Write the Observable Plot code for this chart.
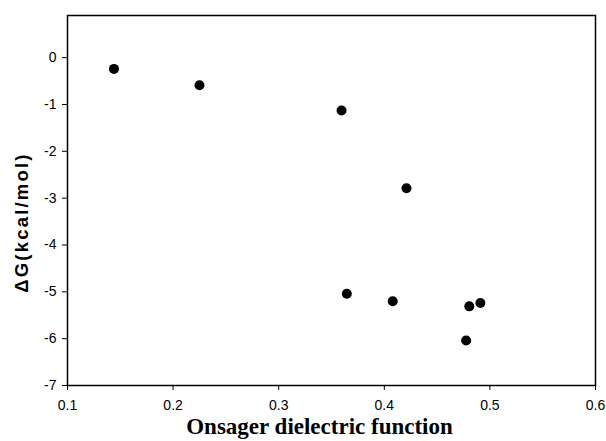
<!DOCTYPE html>
<html>
<head>
<meta charset="utf-8">
<script src="https://cdn.jsdelivr.net/npm/d3@7"></script>
<script src="https://cdn.jsdelivr.net/npm/@observablehq/plot@0.6"></script>
<style>
  html, body { margin: 0; padding: 0; background: #fff; }
</style>
</head>
<body>
<div id="chart"></div>
<script>
const onsager = [0.144, 0.225, 0.3595, 0.421, 0.3645, 0.408, 0.4805, 0.491, 0.4775];
const deltaG  = [-0.24, -0.59, -1.13, -2.79, -5.04, -5.20, -5.31, -5.24, -6.04];
const xTicks = [0.1, 0.2, 0.3, 0.4, 0.5, 0.6];
const yTicks = [0, -1, -2, -3, -4, -5, -6, -7];
const xLabel = "Onsager dielectric function";
const yLabel = "ΔG(kcal/mol)";

const points = onsager.map((x, i) => ({x, y: deltaG[i]}));

const chart = Plot.plot({
  width: 606,
  height: 441,
  marginLeft: 67,
  marginRight: 11,
  marginTop: 15,
  marginBottom: 56,
  style: {fontFamily: "Liberation Sans, Arial, sans-serif", fontSize: "14px", color: "#000", background: "#fff"},
  x: {domain: [0.1, 0.6]},
  y: {domain: [-7, 0.9]},
  marks: [
    Plot.frame({stroke: "#000", strokeWidth: 1.5}),
    Plot.axisX({ticks: xTicks, tickFormat: d3.format(".1f"), tickSize: 5, tickPadding: 10, label: null, fontSize: 14}),
    Plot.axisY({ticks: yTicks, tickFormat: d => String(d), tickSize: 5, tickPadding: 6, label: null, fontSize: 14}),
    Plot.dot(points, {x: "x", y: "y", r: 5, fill: "#000", stroke: null}),
    Plot.text([xLabel], {frameAnchor: "bottom", lineAnchor: "middle", textAnchor: "middle", dx: -12, dy: 41, text: d => d, fontFamily: "Liberation Serif, Times New Roman, serif", fontWeight: "bold", fontSize: 23, fill: "#000"}),
    Plot.text([yLabel], {frameAnchor: "left", lineAnchor: "middle", textAnchor: "middle", dx: -45, dy: 22, rotate: -90, text: d => d, fontFamily: "Liberation Sans, Arial, sans-serif", fontWeight: "bold", fontSize: 18.5, fill: "#000"})
  ]
});
chart.querySelectorAll("text").forEach(t => { if (t.textContent === yLabel) t.setAttribute("letter-spacing", "2.2"); });
document.getElementById("chart").appendChild(chart);
</script>
</body>
</html>
